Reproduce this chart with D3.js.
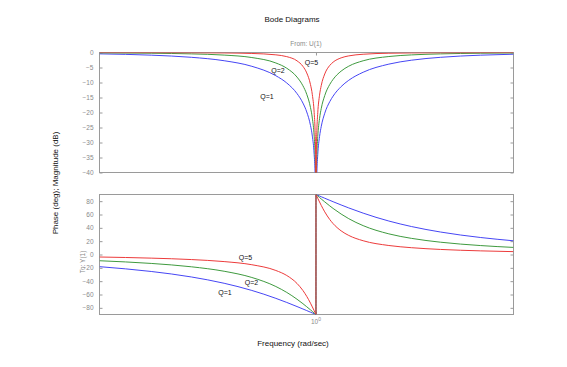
<!DOCTYPE html>
<html><head><meta charset="utf-8">
<script src="https://cdn.jsdelivr.net/npm/d3@7/dist/d3.min.js"></script>
<style>body{margin:0;background:#fff}svg{display:block}text{font-family:"Liberation Sans",Arial,sans-serif}</style>
</head><body>
<script>
// Frequencies (rad/sec) read along the x axis
const freq = [0.3,0.4,0.5,0.6,0.7,0.8,0.85,0.9,0.93,0.95,0.97,0.98,0.99,0.995,0.998,0.9999,
              1.0001,1.002,1.005,1.01,1.02,1.03,1.05,1.08,1.1,1.15,1.2,1.3,1.5,1.7,2,2.5,3];
const seriesNames = ["Q=1","Q=2","Q=5"];
// Magnitude (dB)
const magQ1 = [-0.45,-0.89,-1.6,-2.74,-4.6,-7.74,-10.16,-13.7,-16.85,-19.82,-24.32,-27.88,-33.94,-39.98,-47.9,-74,
               -74,-47.96,-40.0,-34.02,-28.05,-24.58,-20.25,-16.35,-14.54,-11.37,-9.26,-6.58,-3.87,-2.57,-1.6,-0.89,-0.57];
const magQ2 = [-0.12,-0.24,-0.46,-0.86,-1.68,-3.49,-5.24,-8.2,-11.09,-13.93,-18.35,-21.88,-27.92,-33.96,-41.93,-68,
               -68,-41.95,-34.0,-28.01,-22.05,-18.6,-14.35,-10.62,-8.95,-6.21,-4.56,-2.76,-1.34,-0.8,-0.46,-0.24,-0.15];
const magQ5 = [-0.02,-0.04,-0.08,-0.15,-0.32,-0.78,-1.38,-2.78,-4.62,-6.81,-10.71,-14.07,-20.0,-26.01,-33.97,-60,
               -60,-34.0,-26.05,-20.09,-14.23,-10.95,-7.16,-4.29,-3.22,-1.79,-1.13,-0.58,-0.24,-0.14,-0.08,-0.04,-0.02];
// Phase (deg)
const phQ1 = [-18.25,-25.46,-33.69,-43.15,-53.92,-65.77,-71.92,-78.08,-81.73,-84.14,-86.51,-87.69,-88.85,-89.43,-89.77,-89.99,
              89.99,89.77,89.43,88.86,87.73,86.62,84.42,81.24,79.19,74.34,69.86,62.04,50.19,41.97,33.69,25.46,20.56];
const phQ2 = [-9.36,-13.39,-18.43,-25.11,-34.46,-48.01,-56.86,-67.11,-73.8,-78.4,-83.05,-85.38,-87.7,-88.85,-89.54,-89.98,
              89.98,89.54,88.86,87.72,85.47,83.25,78.95,72.87,69.1,60.72,53.74,43.29,30.96,24.22,18.43,13.39,10.62];
const phQ5 = [-3.77,-5.44,-7.59,-10.62,-15.35,-23.96,-31.49,-43.45,-54.01,-62.83,-73.05,-78.58,-84.26,-87.13,-88.85,-89.94,
              89.94,88.86,87.14,84.32,78.8,73.53,63.97,52.38,46.33,35.5,28.61,20.64,13.5,10.2,7.59,5.44,4.29];
const magTicks = [0,-5,-10,-15,-20,-25,-30,-35,-40];
const phaseTicks = [80,60,40,20,0,-20,-40,-60,-80];
const freqTicks = [1];
const colors = ["#4646f4","#3f9a3f","#ec3b3b"];

const W=567,H=367;
const svg=d3.select("body").append("svg").attr("width",W).attr("height",H);
const x=d3.scaleLog().domain([0.3,3]).range([99.5,513.5]);
const yM=d3.scaleLinear().domain([-40,0]).range([172.5,52.5]);
const yP=d3.scaleLinear().domain([-90,90]).range([314.5,194.5]);
const axisCol="#9a9a9a", tickTxt="#8a8a8a";

function panel(y, ticks, id){
  const [y0,y1]=y.range();
  svg.append("clipPath").attr("id",id).append("rect")
    .attr("x",x.range()[0]).attr("y",y1).attr("width",x.range()[1]-x.range()[0]).attr("height",y0-y1);
  const g=svg.append("g");
  // left axis
  const la=g.append("g").attr("transform",`translate(${x.range()[0]},0)`)
    .call(d3.axisLeft(y).tickValues(ticks).tickSize(-3).tickPadding(6).tickFormat(d3.format("d")));
  const ra=g.append("g").attr("transform",`translate(${x.range()[1]},0)`)
    .call(d3.axisRight(y).tickValues(ticks).tickSize(-3).tickFormat(""));
  const ba=g.append("g").attr("transform",`translate(0,${y0})`)
    .call(d3.axisBottom(x).tickValues(freqTicks).tickSize(-3).tickFormat(""));
  const ta=g.append("g").attr("transform",`translate(0,${y1})`)
    .call(d3.axisTop(x).tickValues(freqTicks).tickSize(-3).tickFormat(""));
  [la,ra,ba,ta].forEach(a=>{a.select(".domain").remove();a.selectAll("line").attr("stroke",axisCol);});
  la.selectAll("text").attr("fill",tickTxt).style("font-size","6.5px");
  g.append("rect").attr("x",x.range()[0]).attr("y",y1).attr("width",x.range()[1]-x.range()[0])
    .attr("height",y0-y1).attr("fill","none").attr("stroke",axisCol).attr("stroke-width",1);
  return g;
}
panel(yM,magTicks,"cm");
panel(yP,phaseTicks,"cp");

const mags=[magQ1,magQ2,magQ5], phs=[phQ1,phQ2,phQ5];
mags.forEach((v,i)=>{
  const line=d3.line().x((d,j)=>x(freq[j])).y(d=>yM(d)).curve(d3.curveMonotoneX);
  svg.append("path").attr("d",line(v)).attr("fill","none").attr("stroke",colors[i])
    .attr("stroke-width",1).attr("clip-path","url(#cm)");
});
phs.forEach((v,i)=>{
  const line=d3.line().x((d,j)=>x(freq[j])).y(d=>yP(d)).curve(d3.curveMonotoneX);
  svg.append("path").attr("d",line(v)).attr("fill","none").attr("stroke",colors[i])
    .attr("stroke-width",1).attr("clip-path","url(#cp)");
});

// 10^0 label
const xl=svg.append("text").attr("x",x(1)).attr("y",324).attr("text-anchor","middle")
  .attr("fill",tickTxt).style("font-size","6.5px");
xl.append("tspan").text("10");
xl.append("tspan").attr("dy",-3).style("font-size","5px").text("0");

// titles
svg.append("text").attr("x",292).attr("y",22).attr("text-anchor","middle").style("font-size","8px")
  .attr("fill","#111").text("Bode Diagrams");
svg.append("text").attr("x",306).attr("y",46).attr("text-anchor","middle").style("font-size","6.5px")
  .attr("fill",tickTxt).text("From: U(1)");
svg.append("text").attr("x",293).attr("y",346).attr("text-anchor","middle").style("font-size","8px")
  .attr("fill","#111").text("Frequency (rad/sec)");
svg.append("text").attr("transform","translate(58,183) rotate(-90)").attr("text-anchor","middle")
  .style("font-size","8px").attr("fill","#111").text("Phase (deg); Magnitude (dB)");
svg.append("text").attr("transform","translate(85,262) rotate(-90)").attr("text-anchor","middle")
  .style("font-size","6.5px").attr("fill",tickTxt).text("To: Y(1)");

// curve labels
const lab=(t,cx,cy)=>svg.append("text").attr("x",cx).attr("y",cy+2.5).attr("text-anchor","middle")
  .style("font-size","7px").attr("fill","#111").text(t);
lab(seriesNames[2],311.5,62.5); lab(seriesNames[1],278,70.5); lab(seriesNames[0],267,96);
lab(seriesNames[2],245.5,257.5); lab(seriesNames[1],251.5,282.5); lab(seriesNames[0],225,292.5);
</script>
</body></html>
